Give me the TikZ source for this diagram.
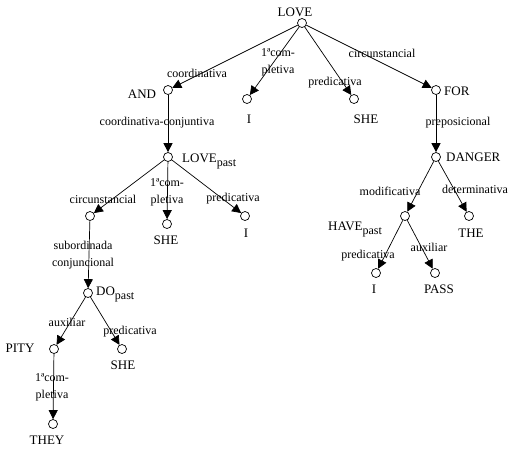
\documentclass[tikz,border=0pt]{standalone}
\usepackage{fontspec}
\setmainfont{Liberation Serif}
\usetikzlibrary{arrows.meta}

\begin{document}
\begin{tikzpicture}
  [x=1pt,y=-1pt,
   pt/.style={circle,draw=black,fill=white,minimum size=9pt,inner sep=0pt,line width=0.7pt},
   word/.style={font=\fontsize{13}{15}\selectfont,inner sep=0pt},
   rel/.style={font=\fontsize{12}{17}\selectfont,align=center,inner sep=0pt},
   arr/.style={-{Triangle[length=9pt,width=9pt]},line width=0.7pt}]
  \useasboundingbox (0,0) rectangle (526,451);

  % points
  \node[pt] (love) at (302,23) {};
  \node[pt] (and) at (168,90) {};
  \node[pt] (i1) at (247,99) {};
  \node[pt] (she1) at (354,99) {};
  \node[pt] (for) at (436,90) {};
  \node[pt] (lovepast) at (168,157) {};
  \node[pt] (danger) at (436,157) {};
  \node[pt] (c1) at (90,216) {};
  \node[pt] (she2) at (167,224) {};
  \node[pt] (i2) at (245,216) {};
  \node[pt] (dopast) at (88,293) {};
  \node[pt] (pity) at (54,349) {};
  \node[pt] (she3) at (122,349) {};
  \node[pt] (they) at (53,424) {};
  \node[pt] (have) at (405,216) {};
  \node[pt] (the) at (469,216) {};
  \node[pt] (i3) at (376,273) {};
  \node[pt] (pass) at (435,273) {};

  % words
  \node[word] (wlove) at (295,12) {LOVE};
  \node[word] (wand) at (142,94) {AND};
  \node[word] (wi1) at (249,119) {I};
  \node[word] (wshe1) at (366,119) {SHE};
  \node[word,anchor=west] (wfor) at (444,91) {FOR};
  \node[word,anchor=base west] (wlovepast) at (182,162) {LOVE\raisebox{-4pt}{\fontsize{12}{12}\selectfont past}};
  \node[word,anchor=west] (wdanger) at (446,157) {DANGER};
  \node[word] (wshe2) at (166,240) {SHE};
  \node[word] (wi2) at (246,233) {I};
  \node[word,anchor=base west] (wdopast) at (96,295) {DO\raisebox{-4pt}{\fontsize{12}{12}\selectfont past}};
  \node[word] (wpity) at (20,348) {PITY};
  \node[word] (wshe3) at (123,365) {SHE};
  \node[word] (wthey) at (47,440) {THEY};
  \node[word,anchor=base west] (whave) at (328,230) {HAVE\raisebox{-4pt}{\fontsize{12}{12}\selectfont past}};
  \node[word] (wthe) at (471,233) {THE};
  \node[word] (wi3) at (374,289) {I};
  \node[word] (wpass) at (439,289) {PASS};

  % relations
  \foreach \from/\to/\lx/\ly/\txt in {love/and/197/73/coordinativa,
      love/i1/278/62/{1ªcom-\\pletiva},
      love/she1/335/83/predicativa,
      love/for/382/53/circunstancial,
      and/lovepast/157/123/coordinativa-conjuntiva,
      for/danger/458/123/preposicional,
      lovepast/c1/103/199/circunstancial,
      lovepast/she2/167/192/{1ªcom-\\pletiva},
      lovepast/i2/233/199/predicativa,
      c1/dopast/83/255/{subordinada\\conjuncional},
      dopast/pity/67/322/auxiliar,
      dopast/she3/130/332/predicativa,
      pity/they/52/387/{1ªcom-\\pletiva},
      danger/have/390/191/modificativa,
      danger/the/475/189/determinativa,
      have/i3/368/256/predicativa,
      have/pass/429/247/auxiliar}
    \draw[arr] (\from) -- (\to) node[rel] (r-\to) at (\lx,\ly) {\txt};

\end{tikzpicture}
\end{document}
